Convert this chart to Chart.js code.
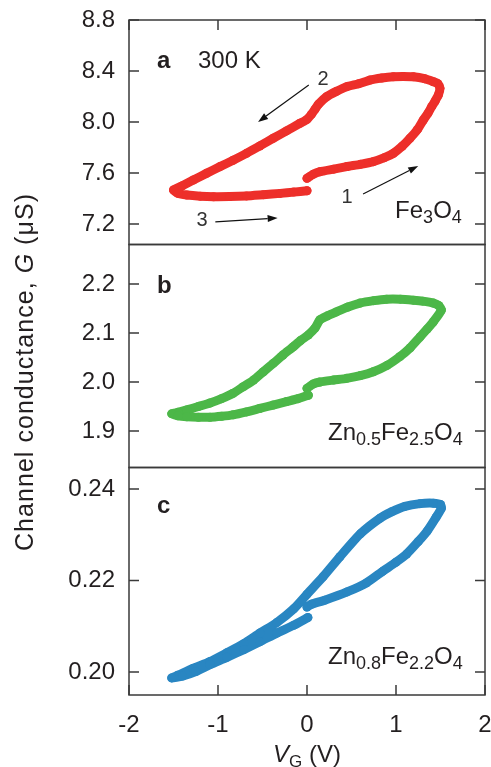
<!DOCTYPE html>
<html>
<head>
<meta charset="utf-8">
<script src="https://cdn.jsdelivr.net/npm/chart.js@4"></script>
<style>
  html, body { margin: 0; padding: 0; background: #fff; }
  #wrap { position: relative; width: 491px; height: 767px; }
</style>
</head>
<body>
<div id="wrap"><canvas id="myChart" width="491" height="767"></canvas></div>
<script>
// shared gate voltage axis
var xTicks = [-2, -1, 0, 1, 2];

// panel a : Fe3O4  (sweep 1 -> 2 -> 3)
var aTicks = ['8.8', '8.4', '8.0', '7.6', '7.2'];
var aV = [0.0, 0.07, 0.146, 0.3, 0.446, 0.6, 0.745, 0.87, 0.97, 1.07, 1.157, 1.24, 1.307, 1.36, 1.40, 1.44, 1.476, 1.494,
  1.47, 1.42, 1.32, 1.195, 1.08, 0.97, 0.84, 0.708, 0.58, 0.446, 0.33, 0.22, 0.13, 0.09, 0.05, 0.0, -0.079, -0.23, -0.38,
  -0.53, -0.68, -0.83, -0.978, -1.13, -1.277, -1.40, -1.50,
  -1.45, -1.35, -1.2, -1.05, -0.87, -0.68, -0.49, -0.30, -0.15, 0.0];
var aG = [7.558, 7.59, 7.61, 7.63, 7.65, 7.668, 7.689, 7.72, 7.754, 7.81, 7.872, 7.94, 8.016, 8.07, 8.12, 8.165, 8.212, 8.264,
  8.30, 8.316, 8.34, 8.355, 8.357, 8.355, 8.345, 8.329, 8.30, 8.277, 8.24, 8.198, 8.14, 8.10, 8.06, 8.02, 7.99, 7.93, 7.872,
  7.812, 7.754, 7.70, 7.65, 7.597, 7.545, 7.50, 7.467,
  7.44, 7.427, 7.418, 7.414, 7.415, 7.42, 7.43, 7.44, 7.45, 7.461];

// panel b : Zn0.5Fe2.5O4
var bTicks = ['2.2', '2.1', '2.0', '1.9'];
var bV = [0.0, 0.07, 0.146, 0.3, 0.446, 0.6, 0.745, 0.9, 1.045, 1.16, 1.27, 1.35, 1.42, 1.51,
  1.48, 1.42, 1.3, 1.195, 1.05, 0.895, 0.75, 0.596, 0.46, 0.33, 0.23, 0.146, 0.09, 0.015, -0.07, -0.154, -0.27, -0.379,
  -0.49, -0.60, -0.72, -0.83, -0.96, -1.09, -1.22, -1.35, -1.45, -1.52,
  -1.45, -1.35, -1.22, -1.09, -0.96, -0.83, -0.68, -0.53, -0.38, -0.23, -0.1, 0.015];
var bG = [1.987, 1.996, 2.0, 2.004, 2.0075, 2.013, 2.021, 2.034, 2.052, 2.07, 2.092, 2.108, 2.123, 2.147,
  2.156, 2.161, 2.165, 2.167, 2.169, 2.169, 2.166, 2.161, 2.153, 2.143, 2.135, 2.127, 2.11, 2.096, 2.085, 2.072, 2.055, 2.038,
  2.021, 2.004, 1.99, 1.977, 1.966, 1.957, 1.95, 1.943, 1.938, 1.935,
  1.931, 1.929, 1.928, 1.928, 1.93, 1.933, 1.939, 1.946, 1.953, 1.96, 1.966, 1.973];

// panel c : Zn0.8Fe2.2O4
var cTicks = ['0.24', '0.22', '0.20'];
var cV = [0.0, 0.05, 0.2, 0.45, 0.67, 0.85, 1.0, 1.12, 1.25, 1.35, 1.45, 1.51,
  1.50, 1.42, 1.27, 1.1, 0.95, 0.82, 0.6, 0.37, 0.18, 0.0, -0.15, -0.34, -0.53, -0.71, -0.9, -1.09, -1.28, -1.45, -1.52,
  -1.4, -1.25, -1.09, -0.9, -0.71, -0.53, -0.34, -0.15, 0.01];
var cG = [0.2142, 0.2148, 0.2157, 0.2175, 0.2195, 0.2220, 0.2240, 0.2258, 0.2285, 0.2308, 0.2338, 0.2358,
  0.2366, 0.2369, 0.2368, 0.2362, 0.2350, 0.2336, 0.2302, 0.2252, 0.2208, 0.2170, 0.2138, 0.2108, 0.2085, 0.2062, 0.2042, 0.2023, 0.2008, 0.1993, 0.1987,
  0.1991, 0.2001, 0.2016, 0.2032, 0.2049, 0.2066, 0.2085, 0.2102, 0.2119];

var FONT = '"Liberation Sans", Arial, sans-serif';
var INK = '#231f20';
var FRAME = '#3a3a3a';

function pts(xs, ys) {
  return xs.map(function (x, i) { return {x: x, y: ys[i]}; });
}

function series(xs, ys, color, axis) {
  return {
    data: pts(xs, ys),
    yAxisID: axis,
    showLine: true,
    borderColor: color,
    backgroundColor: color,
    borderWidth: 9,
    borderCapStyle: 'round',
    borderJoinStyle: 'round',
    tension: 0.2,
    pointRadius: 4.5,
    pointBorderWidth: 0
  };
}

function yScale(labels, min, max, weight) {
  return {
    type: 'linear',
    position: 'left',
    stack: 'panels',
    stackWeight: weight,
    min: min,
    max: max,
    grid: {display: false, drawTicks: false},
    border: {display: false},
    afterBuildTicks: function (s) {
      s.ticks = labels.map(function (l) { return {value: Number(l)}; });
    },
    afterFit: function (s) {
      s.width = 129;
      s.paddingTop = 0;
      s.paddingBottom = 0;
    },
    ticks: {
      padding: 14,
      autoSkip: false,
      color: INK,
      font: {family: FONT, size: 24},
      callback: function (v, i) { return labels[i]; }
    }
  };
}

function rich(ctx, parts, x, y) {
  parts.forEach(function (p) {
    ctx.font = (p[3] || '') + ' ' + p[1] + 'px ' + FONT;
    ctx.fillText(p[0], x, y + p[2]);
    x += ctx.measureText(p[0]).width;
  });
}

function richWidth(ctx, parts) {
  var w = 0;
  parts.forEach(function (p) {
    ctx.font = (p[3] || '') + ' ' + p[1] + 'px ' + FONT;
    w += ctx.measureText(p[0]).width;
  });
  return w;
}

function arrow(ctx, x1, y1, x2, y2) {
  var ang = Math.atan2(y2 - y1, x2 - x1);
  var hl = 10, hw = 3.5;
  ctx.beginPath();
  ctx.moveTo(x1, y1);
  ctx.lineTo(x2 - hl * Math.cos(ang), y2 - hl * Math.sin(ang));
  ctx.stroke();
  ctx.beginPath();
  ctx.moveTo(x2, y2);
  ctx.lineTo(x2 - hl * Math.cos(ang) + hw * Math.sin(ang), y2 - hl * Math.sin(ang) - hw * Math.cos(ang));
  ctx.lineTo(x2 - hl * Math.cos(ang) - hw * Math.sin(ang), y2 - hl * Math.sin(ang) + hw * Math.cos(ang));
  ctx.closePath();
  ctx.fill();
}

var decorPlugin = {
  id: 'decor',
  afterDraw: function (chart) {
    var ctx = chart.ctx;
    var ca = chart.chartArea;
    var sx = chart.scales.x;
    var panels = [
      {s: chart.scales.ya, labels: aTicks, top: true, bottom: false},
      {s: chart.scales.yb, labels: bTicks, top: false, bottom: false},
      {s: chart.scales.yc, labels: cTicks, top: false, bottom: true}
    ];
    var tl = 10;
    ctx.save();
    ctx.strokeStyle = FRAME;
    ctx.lineWidth = 1.5;
    panels.forEach(function (p) {
      ctx.strokeRect(ca.left, p.s.top, ca.right - ca.left, p.s.bottom - p.s.top);
      ctx.beginPath();
      p.labels.forEach(function (l) {
        var y = p.s.getPixelForValue(Number(l));
        ctx.moveTo(ca.left, y); ctx.lineTo(ca.left + tl, y);
        ctx.moveTo(ca.right, y); ctx.lineTo(ca.right - tl, y);
      });
      xTicks.forEach(function (v) {
        var x = sx.getPixelForValue(v);
        if (p.top) { ctx.moveTo(x, p.s.top); ctx.lineTo(x, p.s.top + tl); }
        if (p.bottom) { ctx.moveTo(x, p.s.bottom); ctx.lineTo(x, p.s.bottom - tl); }
      });
      ctx.stroke();
    });

    var ya = chart.scales.ya, yb = chart.scales.yb, yc = chart.scales.yc;
    function X(v) { return sx.getPixelForValue(v); }
    ctx.fillStyle = INK;
    ctx.textAlign = 'left';
    ctx.textBaseline = 'alphabetic';

    // panel letters and captions
    ctx.font = 'bold 24px ' + FONT;
    ctx.fillText('a', X(-1.685), ya.getPixelForValue(8.424));
    ctx.fillText('b', X(-1.685), yb.getPixelForValue(2.1816));
    ctx.fillText('c', X(-1.685), yc.getPixelForValue(0.23475));
    ctx.font = '24px ' + FONT;
    ctx.fillText('300 K', X(-1.225), ya.getPixelForValue(8.424));

    rich(ctx, [['Fe', 24, 0], ['3', 18, 5], ['O', 24, 0], ['4', 18, 5]], X(0.99), ya.getPixelForValue(7.247));
    rich(ctx, [['Zn', 24, 0], ['0.5', 18, 5], ['Fe', 24, 0], ['2.5', 18, 5], ['O', 24, 0], ['4', 18, 5]],
      X(0.236), yb.getPixelForValue(1.8816));
    rich(ctx, [['Zn', 24, 0], ['0.8', 18, 5], ['Fe', 24, 0], ['2.2', 18, 5], ['O', 24, 0], ['4', 18, 5]],
      X(0.236), yc.getPixelForValue(0.20175));

    // sweep direction arrows in panel a
    ctx.strokeStyle = '#111';
    ctx.fillStyle = '#111';
    ctx.lineWidth = 1.2;
    arrow(ctx, X(0.02), ya.getPixelForValue(8.29), X(-0.55), ya.getPixelForValue(8.0));
    arrow(ctx, X(0.63), ya.getPixelForValue(7.435), X(1.25), ya.getPixelForValue(7.655));
    arrow(ctx, X(-1.03), ya.getPixelForValue(7.216), X(-0.33), ya.getPixelForValue(7.247));
    ctx.fillStyle = '#333';
    ctx.font = '20px ' + FONT;
    ctx.textAlign = 'center';
    ctx.textBaseline = 'middle';
    ctx.fillText('2', X(0.18), ya.getPixelForValue(8.33));
    ctx.fillText('1', X(0.45), ya.getPixelForValue(7.41));
    ctx.fillText('3', X(-1.18), ya.getPixelForValue(7.23));

    // x title
    ctx.fillStyle = INK;
    ctx.textAlign = 'left';
    ctx.textBaseline = 'alphabetic';
    var xt = [['V', 24, 0, 'italic'], ['G', 17, 5], [' (V)', 24, 0]];
    rich(ctx, xt, X(0) - richWidth(ctx, xt) / 2, 762);

    // y title, rotated
    var yt = [['Channel conductance, ', 25, 0], ['G', 25, 0, 'italic'], [' (\u03bcS)', 25, 0]];
    var w = richWidth(ctx, yt);
    var nChar = 'Channel conductance, G (\u03bcS)'.length;
    var sp = Math.max(0, (358 - w) / nChar);
    ctx.translate(33, 372);
    ctx.rotate(-Math.PI / 2);
    if ('letterSpacing' in ctx) { ctx.letterSpacing = sp + 'px'; }
    var wt = richWidth(ctx, yt);
    rich(ctx, yt, -wt / 2, 0);
    ctx.restore();
  }
};

var ctx = document.getElementById('myChart');

var chart = new Chart(ctx, {
  type: 'scatter',
  data: {
    datasets: [
      series(aV, aG, 'rgb(237, 47, 42)', 'ya'),
      series(bV, bG, 'rgb(76, 183, 72)', 'yb'),
      series(cV, cG, 'rgb(41, 134, 194)', 'yc')
    ]
  },
  options: {
    responsive: false,
    animation: false,
    layout: {padding: {top: 20, right: 6, left: 0, bottom: 0}},
    plugins: {legend: {display: false}, tooltip: {enabled: false}},
    scales: {
      x: {
        type: 'linear',
        position: 'bottom',
        min: -2,
        max: 2,
        grid: {display: false, drawTicks: false},
        border: {display: false},
        afterBuildTicks: function (s) {
          s.ticks = xTicks.map(function (v) { return {value: v}; });
        },
        afterFit: function (s) {
          s.height = 72;
          s.paddingLeft = 0;
          s.paddingRight = 0;
        },
        ticks: {
          padding: 16,
          autoSkip: false,
          color: INK,
          maxRotation: 0,
          font: {family: FONT, size: 24}
        }
      },
      // stacked panels are placed bottom-up, so the lowest panel comes first
      yc: yScale(cTicks, 0.19497, 0.2447, 227.5),
      yb: yScale(bTicks, 1.8255, 2.2806, 223),
      ya: yScale(aTicks, 7.039, 8.8, 224.5)
    }
  },
  plugins: [decorPlugin]
});
</script>
</body>
</html>
